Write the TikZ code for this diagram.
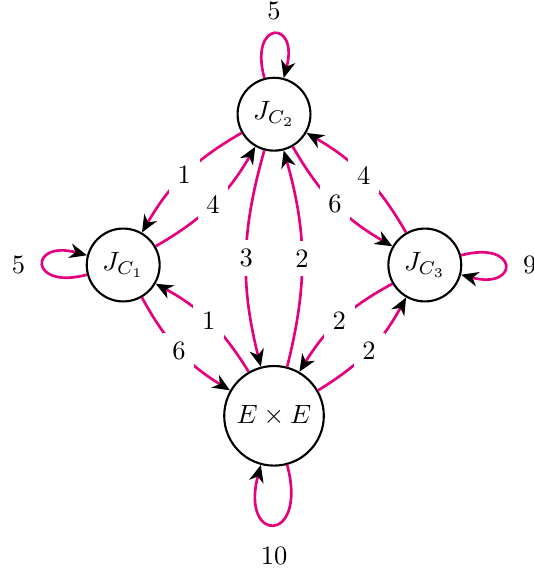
\documentclass[tikz,border=0pt]{standalone}
\usetikzlibrary{arrows.meta}
\definecolor{edgecol}{RGB}{230,0,126}
\begin{document}
\begin{tikzpicture}[
  stnode/.style={circle, draw, line width=0.8pt, minimum size=27.5pt, inner sep=3.33pt},
  trans/.style={draw=edgecol, line width=1pt, -{Stealth[black,length=6.5pt,width=5.5pt,inset=2pt]}},
  lbl/.style={fill=white, inner sep=3.33pt},
  every loop/.style={trans},
]
\useasboundingbox (-103.4pt,-116.6pt) rectangle (98.1pt,100pt);
\node[stnode] (c2) at (0,2) {$J_{C_2}$};
\node[stnode] (c1) at (-2,0) {$J_{C_1}$};
\node[stnode] (c3) at (2,0) {$J_{C_3}$};
\node[stnode] (e) at (0,-2) {$E\times E$};

\path[trans]
  (c2) edge[bend right=15] node[lbl] {1} (c1)
  (c1) edge[bend right=15] node[lbl] {4} (c2)
  (c2) edge[bend right=15] node[lbl] {3} (e)
  (e)  edge[bend right=15] node[lbl] {2} (c2)
  (c2) edge[bend right=15] node[lbl] {6} (c3)
  (c3) edge[bend right=15] node[lbl] {4} (c2)
  (c3) edge[bend right=15] node[lbl] {2} (e)
  (e)  edge[bend right=15] node[lbl] {2} (c3)
  (e)  edge[bend right=15] node[lbl] {1} (c1)
  (c1) edge[bend right=15] node[lbl] {6} (e)
  (c2) edge[loop above] node[above=1.5pt] {5} ()
  (c1) edge[loop left] node[left=3pt] {5} ()
  (c3) edge[loop right] node[right=3pt] {9} ()
  (e)  edge[loop below] node[below=4.5pt] {10} ();
\end{tikzpicture}
\end{document}
